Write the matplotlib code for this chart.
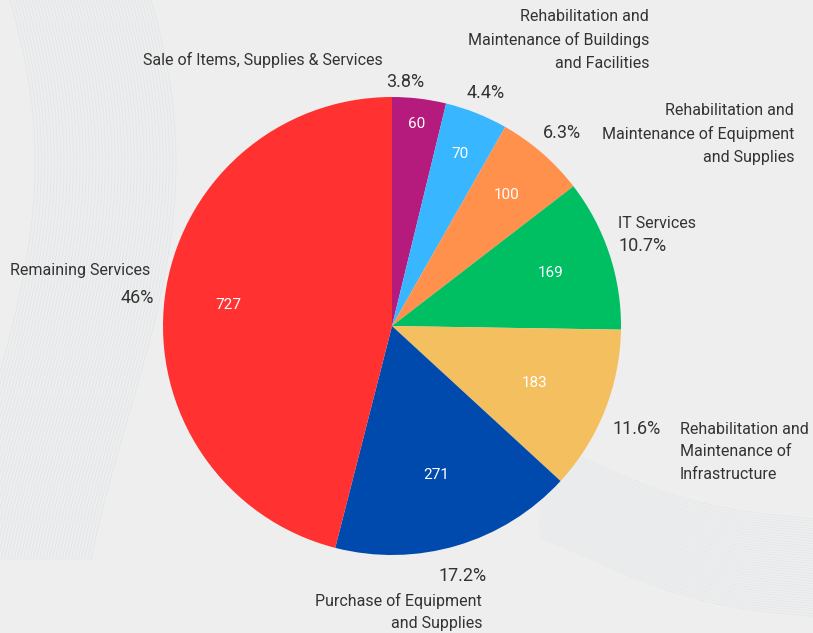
import numpy as np
import matplotlib
matplotlib.use("Agg")
import matplotlib.pyplot as plt

# ---- data ----
categories = ["Sale of Items, Supplies & Services",
              "Rehabilitation and\nMaintenance of Buildings\nand Facilities",
              "Rehabilitation and\nMaintenance of Equipment\nand Supplies",
              "IT Services",
              "Rehabilitation and\nMaintenance of\nInfrastructure",
              "Purchase of Equipment\nand Supplies",
              "Remaining Services"]
values = [60, 70, 100, 169, 183, 271, 727]
pct_labels = ["3.8%", "4.4%", "6.3%", "10.7%", "11.6%", "17.2%", "46%"]
colors = ["#B51B7D", "#38B6FF", "#FF914D", "#00BF63", "#F4BF5F", "#004AAD", "#FF3131"]

W, H = 813, 633
plt.rcParams['font.family'] = ['Roboto', 'DejaVu Sans']
fig = plt.figure(figsize=(W / 100, H / 100), dpi=100)
bg = "#EEEEEE"
fig.patch.set_facecolor(bg)
ax = fig.add_axes([0, 0, 1, 1])
ax.set_facecolor(bg)
ax.set_xlim(0, W)
ax.set_ylim(0, H)
ax.set_aspect('equal')
ax.axis('off')

def Y(py):
    return H - py

# ---- subtle background ribbons ----
t = np.linspace(0, 1, 200)
for k in range(45):
    off = k * 3.2
    x = 10 + off + 90 * np.sin(t * np.pi * 0.8) * (1 - t) - 60 * t
    y = t * 560
    ax.plot(x, Y(y), color="#BFD3DD", lw=0.6, alpha=0.3, zorder=0)
for k in range(40):
    off = k * 2.5
    x = 540 + t * 290
    y = 440 + off + 80 * t ** 1.5 + 30 * np.sin(t * np.pi)
    ax.plot(x, Y(y), color="#C5D6DE", lw=0.6, alpha=0.25, zorder=0)

# ---- pie ----
cx, cy, r = 392, 326, 229
wedges, _ = ax.pie(values, colors=colors, startangle=90, counterclock=False,
                   center=(cx, Y(cy)), radius=r, frame=True,
                   wedgeprops=dict(linewidth=0))
ax.set_xlim(0, W)
ax.set_ylim(0, H)
ax.axis('off')

# value labels inside wedges
val_rad = [0.89, 0.81, 0.76, 0.73, 0.67, 0.68, 0.72]
for w, v, f in zip(wedges, values, val_rad):
    ang = np.deg2rad((w.theta1 + w.theta2) / 2)
    ax.text(cx + f * r * np.cos(ang), Y(cy) + f * r * np.sin(ang), str(v),
            color="white", fontsize=11, ha='center', va='center')

tc = "#333333"
fs = 11.5
pfs = 13
ls = 1.62
# category labels
ax.text(383, Y(60), categories[0], fontsize=fs, color=tc, ha='right', va='center')
ax.text(649, Y(40), categories[1], fontsize=fs, color=tc, ha='right', va='center', linespacing=ls)
ax.text(794, Y(134), categories[2], fontsize=fs, color=tc, ha='right', va='center', linespacing=ls)
ax.text(618, Y(224), categories[3], fontsize=fs, color=tc, ha='left', va='center')
ax.text(680, Y(452), categories[4], fontsize=fs, color=tc, ha='left', va='center', linespacing=ls)
ax.text(482, Y(612), categories[5], fontsize=fs, color=tc, ha='right', va='center', linespacing=ls)
ax.text(10, Y(271), categories[6], fontsize=fs, color=tc, ha='left', va='center')

# percentage labels
ax.text(405, Y(82), pct_labels[0], fontsize=pfs, color=tc, ha='center', va='center')
ax.text(486, Y(93), pct_labels[1], fontsize=pfs, color=tc, ha='center', va='center')
ax.text(562, Y(133), pct_labels[2], fontsize=pfs, color=tc, ha='center', va='center')
ax.text(618, Y(246), pct_labels[3], fontsize=pfs, color=tc, ha='left', va='center')
ax.text(637, Y(429), pct_labels[4], fontsize=pfs, color=tc, ha='center', va='center')
ax.text(487, Y(576), pct_labels[5], fontsize=pfs, color=tc, ha='right', va='center')
ax.text(154, Y(298), pct_labels[6], fontsize=pfs, color=tc, ha='right', va='center')

fig.savefig("out.png", dpi=100, facecolor=bg)
